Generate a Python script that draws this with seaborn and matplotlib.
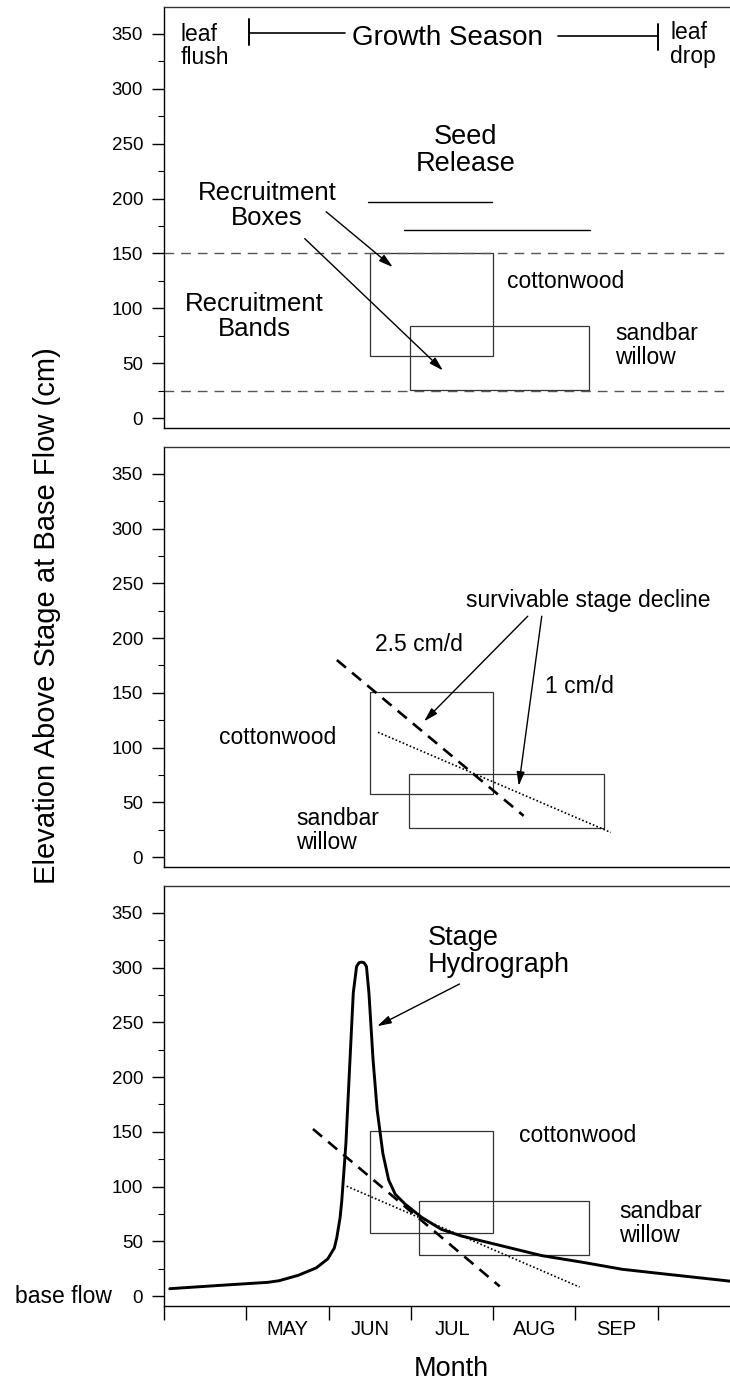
import matplotlib
matplotlib.use('Agg')
import matplotlib.pyplot as plt
from matplotlib.patches import Rectangle
import seaborn as sns

# x axis is in months: 4 = 1 April, 5 = 1 May, ...
month_labels = ['MAY', 'JUN', 'JUL', 'AUG', 'SEP']
month_centers = [5.5, 6.5, 7.5, 8.5, 9.5]
month_starts = [4, 5, 6, 7, 8, 9, 10, 11]

# stage hydrograph (cm above base flow)
hydro_x = [4.07, 4.67, 5.26, 5.40, 5.63, 5.85, 5.99, 6.07, 6.10, 6.14, 6.16, 6.19,
           6.21, 6.26, 6.30, 6.34, 6.37, 6.40, 6.43, 6.46, 6.49, 6.54, 6.59, 6.66,
           6.73, 6.81, 6.93, 7.13, 7.37, 7.61, 8.10, 8.59, 9.08, 9.57, 10.05, 10.90]
hydro_y = [6.8, 9.8, 12.6, 14.1, 19.0, 25.8, 34.0, 44, 53.6, 72, 87, 118,
           139, 216, 277, 301, 304.5, 305, 304.5, 301, 277, 216, 170, 130,
           106, 93, 84, 72, 61, 55, 46, 37, 31, 24.5, 20.5, 13.5]

# recruitment boxes per panel: (x0, x1, y0, y1)
cotton_boxes = [(6.50, 8.00, 56.5, 150), (6.50, 8.00, 58, 151), (6.50, 8.00, 57.3, 150.7)]
willow_boxes = [(6.99, 9.17, 25.4, 83.5), (6.98, 9.35, 26.4, 76.3), (7.10, 9.17, 37.6, 86.6)]

# recruitment band limits
band_levels = [150, 25]

# seed release periods: (start, end, level)
seed_cotton = (6.48, 7.98, 197)
seed_willow = (6.92, 9.18, 171)

# survivable stage decline lines: (x0, y0, x1, y1)
decline_fast = [(6.10, 180, 8.37, 37.7), (5.81, 152.6, 8.08, 8.9)]
decline_slow = [(6.60, 114, 9.43, 22.5), (6.22, 100.4, 9.05, 8.3)]

sns.set_theme(style='ticks')
plt.rcParams['font.family'] = ['Liberation Sans', 'DejaVu Sans']
plt.rcParams.update({'axes.linewidth': 1.0, 'text.color': 'black',
                     'axes.edgecolor': 'black', 'axes.labelcolor': 'black',
                     'xtick.color': 'black', 'ytick.color': 'black'})

fig = plt.figure(figsize=(7.30, 13.83), dpi=100)
left, width = 164 / 730, 566 / 730
axes = [fig.add_axes([left, 1 - 428 / 1383, width, 421 / 1383]),
        fig.add_axes([left, 1 - 867 / 1383, width, 420 / 1383]),
        fig.add_axes([left, 1 - 1306 / 1383, width, 420 / 1383])]

BIG = 19.5
MID = 16.5


def arrow(ax, tail, head):
    ax.annotate('', xy=head, xytext=tail,
                arrowprops=dict(arrowstyle='-|>,head_length=0.7,head_width=0.2',
                                lw=1.0, color='black', shrinkA=0, shrinkB=0))


def seg(ax, x0, y0, x1, y1, **kw):
    sns.lineplot(x=[x0, x1], y=[y0, y1], ax=ax, color='black', sort=False,
                 estimator=None, **kw)


for i, ax in enumerate(axes):
    ax.set_xlim(4, 4 + 566 / 82.3)
    ax.set_ylim(-9, 374.5)
    ax.set_yticks(range(0, 351, 50))
    ax.set_yticks(range(25, 351, 50), minor=True)
    ax.tick_params(axis='y', which='major', length=9, width=1, labelsize=13.5, pad=6)
    ax.tick_params(axis='y', which='minor', length=4, width=0.8)
    ax.spines['right'].set_visible(False)
    ax.spines['top'].set_color('#333333')
    ax.set_xlabel('')
    ax.set_ylabel('')
    c = cotton_boxes[i]
    w = willow_boxes[i]
    for b in (c, w):
        ax.add_patch(Rectangle((b[0], b[2]), b[1] - b[0], b[3] - b[2],
                               fill=False, lw=0.9, ec='#333333'))
    if i < 2:
        ax.tick_params(axis='x', which='both', bottom=False, labelbottom=False)

# ---- top panel ----
ax = axes[0]
for lev in band_levels:
    ax.axhline(lev, color='#555555', lw=1.0, dashes=(7, 5))
ax.text(4.2, 339, 'leaf\nflush', fontsize=MID, ha='left', va='center', linespacing=1.05)
ax.text(10.15, 340, 'leaf\ndrop', fontsize=MID, ha='left', va='center', linespacing=1.05)
seg(ax, 5.03, 351, 6.2, 351, lw=1.2)
seg(ax, 5.03, 340, 5.03, 364, lw=1.4)
seg(ax, 8.79, 348, 10.0, 348, lw=1.2)
seg(ax, 10.0, 335, 10.0, 359, lw=1.4)
ax.text(7.44, 346, 'Growth Season', fontsize=20, ha='center', va='center')
ax.text(7.66, 244, 'Seed\nRelease', fontsize=BIG, ha='center', va='center', linespacing=1.05)
seg(ax, seed_cotton[0], seed_cotton[2], seed_cotton[1], seed_cotton[2], lw=1.0)
seg(ax, seed_willow[0], seed_willow[2], seed_willow[1], seed_willow[2], lw=1.0)
ax.text(5.25, 194, 'Recruitment\nBoxes', fontsize=18.5, ha='center', va='center', linespacing=1.05)
arrow(ax, (5.97, 188), (6.78, 137.5))
arrow(ax, (5.71, 163.5), (7.39, 43.4))
ax.text(5.1, 93, 'Recruitment\nBands', fontsize=18.5, ha='center', va='center', linespacing=1.05)
ax.text(8.17, 124, 'cottonwood', fontsize=MID, ha='left', va='center')
ax.text(9.48, 66.5, 'sandbar\nwillow', fontsize=MID, ha='left', va='center', linespacing=1.05)

# ---- middle panel ----
ax = axes[1]
f = decline_fast[0]
s = decline_slow[0]
seg(ax, f[0], f[1], f[2], f[3], lw=1.9, dashes=(4.5, 3))
seg(ax, s[0], s[1], s[2], s[3], lw=1.2, dashes=(1, 1.3))
ax.text(9.15, 234, 'survivable stage decline', fontsize=MID, ha='center', va='center')
ax.text(7.10, 194, '2.5 cm/d', fontsize=MID, ha='center', va='center')
ax.text(9.05, 156, '1 cm/d', fontsize=MID, ha='center', va='center')
arrow(ax, (8.42, 220), (7.16, 124))
arrow(ax, (8.59, 220), (8.31, 65))
ax.text(4.67, 109, 'cottonwood', fontsize=MID, ha='left', va='center')
ax.text(5.61, 24, 'sandbar\nwillow', fontsize=MID, ha='left', va='center', linespacing=1.05)

# ---- bottom panel ----
ax = axes[2]
f = decline_fast[1]
s = decline_slow[1]
seg(ax, f[0], f[1], f[2], f[3], lw=1.9, dashes=(4.5, 3))
seg(ax, s[0], s[1], s[2], s[3], lw=1.2, dashes=(1, 1.3))
sns.lineplot(x=hydro_x, y=hydro_y, ax=ax, color='black', lw=2.1, sort=False, estimator=None)
ax.text(7.2, 315, 'Stage\nHydrograph', fontsize=BIG, ha='left', va='center', linespacing=1.05)
arrow(ax, (7.59, 285), (6.59, 246.5))
ax.text(8.31, 147, 'cottonwood', fontsize=MID, ha='left', va='center')
ax.text(9.53, 66, 'sandbar\nwillow', fontsize=MID, ha='left', va='center', linespacing=1.05)
ax.text(3.37, 0, 'base flow', fontsize=MID, ha='right', va='center', clip_on=False)
ax.set_xticks(month_starts)
ax.set_xticklabels([])
ax.set_xticks(month_centers, minor=True)
ax.set_xticklabels(month_labels, minor=True)
ax.tick_params(axis='x', which='major', length=10, width=1, direction='out')
ax.tick_params(axis='x', which='minor', length=0, labelsize=14.5, pad=10)
ax.set_xlim(4, 4 + 566 / 82.3)

fig.text(451 / 730, 1 - 1369 / 1383, 'Month', fontsize=19.5, ha='center', va='center')
fig.text(47 / 730, 1 - 616 / 1383, 'Elevation Above Stage at Base Flow (cm)',
         fontsize=21, rotation=90, ha='center', va='center')

fig.savefig('out.png', dpi=100)
plt.close(fig)
